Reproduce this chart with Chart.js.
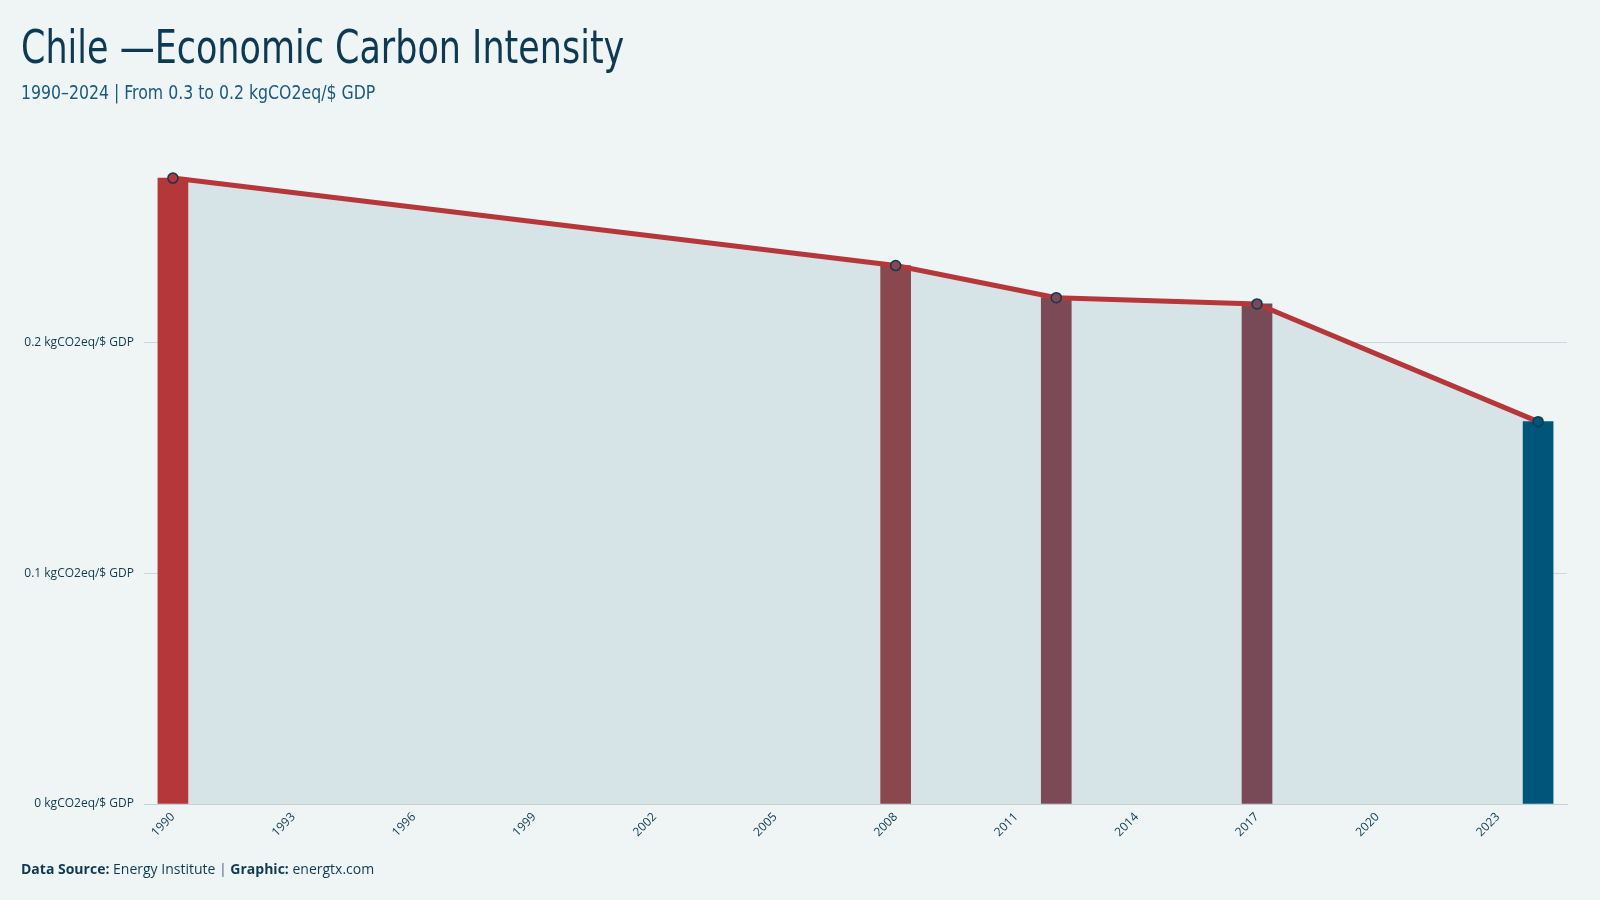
<!DOCTYPE html>
<html>
<head>
<meta charset="utf-8">
<script src="https://cdn.jsdelivr.net/npm/chart.js@4"></script>
<style>
  html, body { margin: 0; padding: 0; background: #eff5f5; }
  body { width: 1600px; height: 900px; position: relative; overflow: hidden; }
  #wrap { position: absolute; left: 0; top: 0; width: 1600px; height: 900px; }
  .title {
    position: absolute; left: 21px; top: 20px;
    font-family: "Ubuntu Condensed", "Liberation Sans Narrow", "DejaVu Sans Condensed", "Roboto Condensed", sans-serif;
    font-stretch: condensed;
    font-size: 46px; color: #0d3a52; white-space: nowrap;
    transform: scaleX(0.845); transform-origin: left top;
  }
  .subtitle {
    position: absolute; left: 21px; top: 80px;
    font-family: "Ubuntu Condensed", "Liberation Sans Narrow", "DejaVu Sans Condensed", "Roboto Condensed", sans-serif;
    font-stretch: condensed;
    font-size: 20px; color: #1b5a7c; white-space: nowrap;
    transform: scaleX(0.875); transform-origin: left top;
  }
  .footer {
    position: absolute; left: 21px; top: 859px;
    font-family: "Open Sans", sans-serif; font-size: 14px; color: #0d3a52; white-space: nowrap;
  }
  .footer b { font-weight: 700; }
  .footer .sep { color: #7d98a6; font-weight: 700; }
</style>
</head>
<body>
<div id="wrap"><canvas id="chart" width="1600" height="900"></canvas></div>
<div class="title">Chile —Economic Carbon Intensity</div>
<div class="subtitle">1990–2024 | From 0.3 to 0.2 kgCO2eq/$ GDP</div>
<div class="footer"><b>Data Source:</b> Energy Institute <span class="sep">|</span> <b>Graphic:</b> energtx.com</div>

<script>
// valores
const years = [1990, 2008, 2012, 2017, 2024];
const intensity = [0.2711, 0.2332, 0.2193, 0.2166, 0.1656];
const barColors = ['#b5373a', '#8b474e', '#7c4a57', '#784a58', '#00557a'];
const xTicks = [1990, 1993, 1996, 1999, 2002, 2005, 2008, 2011, 2014, 2017, 2020, 2023];
const yTicks = [0, 0.1, 0.2];

const points = years.map((y, i) => ({ x: y, y: intensity[i] }));
const navy = '#0d3a52';
const labelFont = { family: '"Open Sans", sans-serif', size: 12 };

new Chart(document.getElementById('chart'), {
    type: 'bar',
    data: {
        datasets: [
            {
                // área sombreada por baixo da linha
                type: 'line',
                data: points,
                fill: 'origin',
                backgroundColor: '#d6e3e7',
                borderWidth: 0,
                pointRadius: 0,
                order: 3
            },
            {
                type: 'bar',
                data: points,
                backgroundColor: barColors,
                barThickness: 30,
                order: 2
            },
            {
                type: 'line',
                data: points,
                fill: false,
                borderColor: '#b5373a',
                borderWidth: 5,
                tension: 0,
                pointRadius: 5,
                pointBackgroundColor: barColors,
                pointBorderColor: navy,
                pointBorderWidth: 1.5,
                order: 1
            }
        ]
    },
    options: {
        responsive: false,
        animation: false,
        layout: { padding: { top: 146, right: 33, bottom: 0, left: 0 } },
        plugins: {
            legend: { display: false },
            tooltip: { enabled: false }
        },
        scales: {
            x: {
                type: 'linear',
                min: 1989.28,
                max: 2024.72,
                offset: false,
                afterBuildTicks: s => { s.ticks = xTicks.map(v => ({ value: v })); },
                afterFit: s => { s.height = 96; },
                grid: { display: false, drawTicks: false },
                border: { display: true, color: '#c3d1d5', dash: [2, 2], width: 1 },
                ticks: {
                    color: navy,
                    font: labelFont,
                    minRotation: 45,
                    maxRotation: 45,
                    padding: 6,
                    callback: v => String(v)
                }
            },
            y: {
                min: 0,
                max: 0.285,
                afterBuildTicks: s => { s.ticks = yTicks.map(v => ({ value: v })); },
                afterFit: s => { s.width = 144; },
                grid: {
                    drawTicks: false,
                    color: ctx => ctx.tick && ctx.tick.value === 0 ? 'rgba(0,0,0,0)' : '#cbd9dd',
                    lineWidth: 1
                },
                border: { display: false },
                ticks: {
                    color: navy,
                    font: labelFont,
                    padding: 10,
                    callback: v => v + ' kgCO2eq/$ GDP'
                }
            }
        }
    }
});
</script>
</body>
</html>
